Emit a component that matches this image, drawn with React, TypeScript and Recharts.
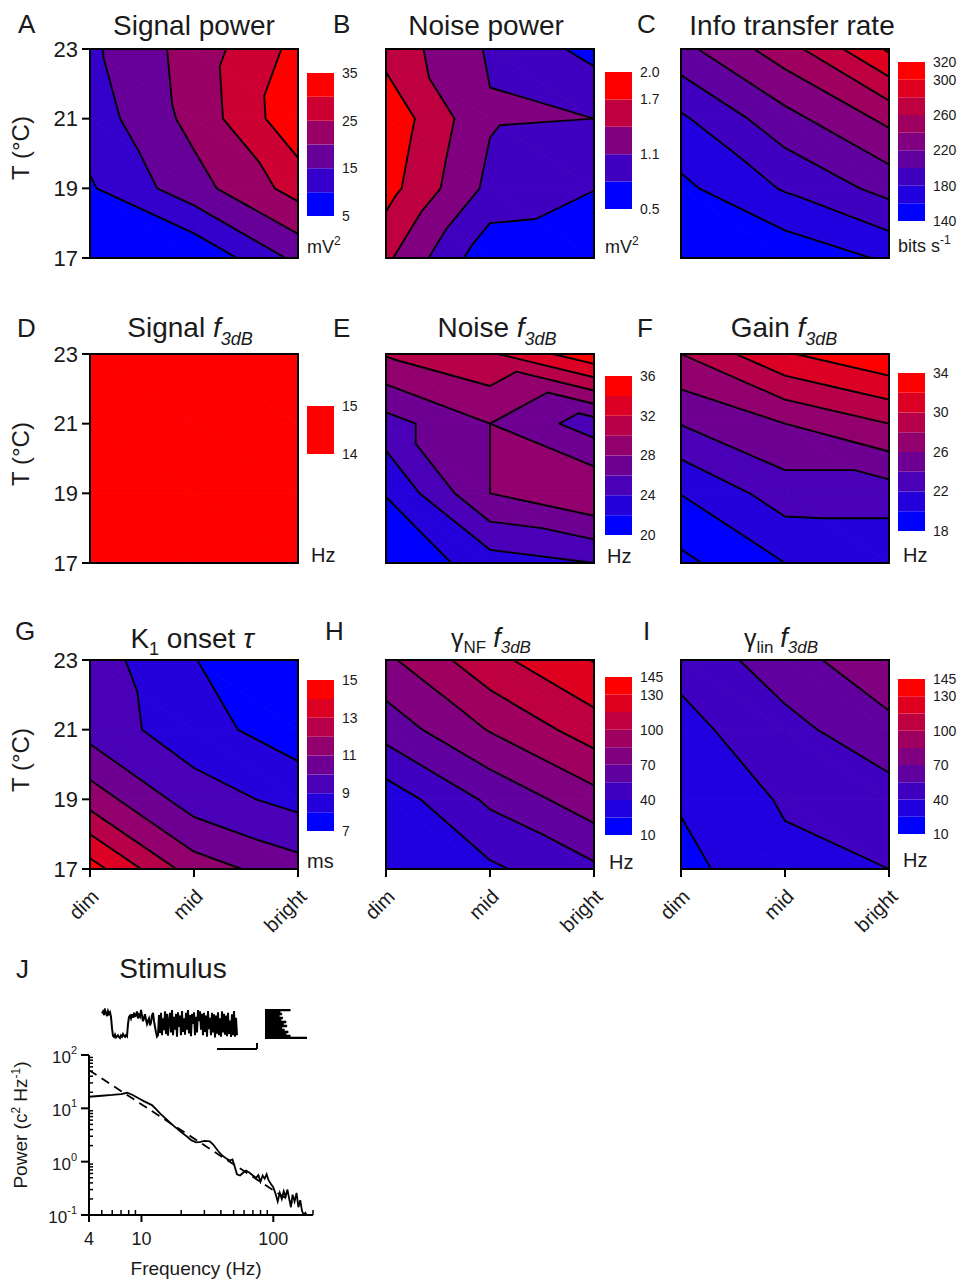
import React from 'react';
import {
  ComposedChart,
  XAxis,
  YAxis,
  ReferenceArea,
  Scatter,
  BarChart,
  Bar,
  LineChart,
  Line,
  ReferenceLine,
} from 'recharts';

const FONT = '"Liberation Sans", Arial, Helvetica, sans-serif';
const INK = '#1a1a1a';

// ---------- contour data: rows = temperature (17,19,21,23 °C), columns = dim, mid, bright ----------
const brightnessLevels = ['dim', 'mid', 'bright'];
const temperatures = [17, 19, 21, 23];

const signalPower = [
  [6, 5.6, 16.3],
  [9.45, 18.05, 27],
  [12.3, 21.6, 33.8],
  [14, 22.1, 31.5],
];
const signalPowerLevels = [5, 10, 15, 20, 25, 30, 35];
const signalPowerTicks = [5, 15, 25, 35];

const noisePower = [
  [1.46, 0.58, 0.52],
  [1.82, 1.02, 0.81],
  [1.92, 1.13, 1.1],
  [1.59, 1.063, 0.7],
];
const noisePowerLevels = [0.5, 0.8, 1.1, 1.4, 1.7, 2.0];
const noisePowerTicks = [0.5, 1.1, 1.7, 2.0];

const infoRate = [
  [145, 145.6, 163],
  [155.4, 182, 207],
  [176.7, 213, 245],
  [214, 251, 303],
];
const infoRateLevels = [140, 160, 180, 200, 220, 240, 260, 280, 300, 320];
const infoRateTicks = [140, 180, 220, 260, 300, 320];

const signalF3dB = [
  [14.5, 14.5, 14.5],
  [14.5, 14.5, 14.5],
  [14.5, 14.5, 14.5],
  [14.5, 14.5, 14.5],
];
const signalF3dBLevels = [14, 15];
const signalF3dBTicks = [14, 15];

const noiseF3dB = [
  [20.2, 23.07, 24],
  [22.1, 28, 29.9],
  [25.2, 28, 25],
  [30.17, 31.7, 35.5],
];
const noiseF3dBLevels = [20, 22, 24, 26, 28, 30, 32, 34, 36];
const noiseF3dBTicks = [20, 24, 28, 32, 36];

const gainF3dB = [
  [17.5, 20, 20.2],
  [20.05, 23, 23],
  [24.06, 26, 28],
  [28, 31.8, 33.8],
];
const gainF3dBLevels = [18, 20, 22, 24, 26, 28, 30, 32, 34];
const gainF3dBTicks = [18, 22, 26, 30, 34];

const k1Onset = [
  [14.45, 11.5, 10.41],
  [11.55, 9.49, 8.67],
  [9.6, 8.4, 7.45],
  [9.5, 8.03, 7.1],
];
const k1OnsetLevels = [7, 8, 9, 10, 11, 12, 13, 14, 15];
const k1OnsetTicks = [7, 9, 11, 13, 15];

const gammaNF = [
  [28, 37.4, 52],
  [31.1, 58, 79.3],
  [61.4, 86, 107.7],
  [81.9, 110.5, 130.8],
];
const gammaNFLevels = [10, 25, 40, 55, 70, 85, 100, 115, 130, 145];
const gammaNFTicks = [10, 40, 70, 100, 130, 145];

const gammaLin = [
  [20.5, 36, 40],
  [26.5, 41.8, 48.6],
  [35.2, 50.3, 65.4],
  [44.7, 63.1, 82.3],
];
const gammaLinLevels = [10, 25, 40, 55, 70, 85, 100, 115, 130, 145];
const gammaLinTicks = [10, 40, 70, 100, 130, 145];

// ---------- stimulus (panel J) ----------
const stimulusTrace = [
  0.88, 0.95, 0.82, 1.0, 0.9, 0.78, 0.96, 0.86, 0.92, 0.75, 0.35,
  0.08, 0.04, 0.12, 0.02, 0.06, 0.1, 0.03, 0.0, 0.09, 0.05, 0.14, 0.08, 0.04, 0.1, 0.06,
  0.5, 0.75, 0.8, 0.7, 0.85, 0.72, 0.9, 0.78, 0.8, 0.95, 0.7, 0.82, 0.76, 1.0, 0.8, 0.6, 0.72,
  0.85, 0.65, 0.5, 0.62, 0.7, 0.45, 0.55, 0.8, 0.9, 0.6, 0.4, 0.2, 0.05,
  0.1, 0.82, 0.18, 0.9, 0.1, 0.7, 0.28, 0.95, 0.14, 0.86, 0.08, 0.62, 0.9, 0.2, 1.0, 0.1,
  0.76, 0.3, 0.86, 0.05, 0.92, 0.4, 0.8, 0.1, 0.96, 0.22, 0.7, 0.12, 0.9, 0.3, 1.0, 0.16,
  0.82, 0.06, 0.86, 0.5, 0.92, 0.1, 0.76, 0.2, 1.0, 0.6, 0.95, 0.3, 0.86, 0.1, 0.9, 0.22,
  0.8, 0.05, 0.96, 0.32, 0.72, 0.1, 0.9, 0.2, 0.85, 0.02, 0.8, 0.15, 0.92, 0.1, 0.7, 0.05,
  0.95, 0.2, 0.86, 0.12, 0.8, 0.06, 0.9, 0.15, 0.62, 0.04, 0.85, 0.1, 0.96, 0.05, 0.72, 0.1,
];
const stimulusHistogram = [0.6, 0.36, 0.4, 0.34, 0.42, 0.38, 0.5, 0.44, 0.52, 0.4, 0.46, 0.55, 0.5, 0.6, 1.0];

const spectrumFreq = [
  4, 5, 6, 7, 7.8, 8.5, 9.5, 10.5, 12, 13, 14, 15.5, 17, 18.5, 20, 22, 24, 26, 28, 30, 33, 35, 38, 41, 44, 47,
  49, 51, 53, 56, 59, 62, 66, 70, 74, 77, 80, 83, 86, 89, 92, 96, 100, 104, 108, 112, 116, 120, 124, 128, 132,
  136, 140, 145, 150, 155, 160, 165, 170, 175, 182, 190, 200,
];
const spectrumPower = [
  16.5, 17.2, 17.8, 18.5, 19.6, 18, 15.5, 13.5, 11.5, 9.5, 7.8, 6.2, 5, 4.2, 3.6, 3, 2.5, 2.3, 2.35, 2.45, 2.4,
  2.1, 1.6, 1.3, 1.15, 1.05, 1.1, 0.8, 0.58, 0.55, 0.62, 0.68, 0.62, 0.55, 0.5, 0.56, 0.42, 0.55, 0.48, 0.58,
  0.45, 0.38, 0.33, 0.25, 0.18, 0.26, 0.2, 0.28, 0.22, 0.3, 0.2, 0.14, 0.24, 0.18, 0.26, 0.14, 0.19, 0.12, 0.1,
  0.11, 0.095, 0.1, 0.09,
];
const fitFreq = [4, 140];
const fitPower = [52, 0.17];

const freqTicks = [4, 5, 6, 7, 8, 9, 10, 20, 30, 40, 50, 60, 70, 80, 90, 100, 200];
const freqTickLabels: Record<string, string> = { '4': '4', '10': '10', '100': '100' };
const powerTicks = [
  0.1, 0.2, 0.3, 0.4, 0.5, 0.6, 0.7, 0.8, 0.9, 1, 2, 3, 4, 5, 6, 7, 8, 9, 10, 20, 30, 40, 50, 60, 70, 80, 90, 100,
];
const powerTickExponents: Record<string, string> = { '0.1': '-1', '1': '0', '10': '1', '100': '2' };

// ---------- helpers ----------
type Pt = { x: number; y: number; v: number };

function bandColor(k: number, n: number) {
  const t = n <= 1 ? 1 : k / (n - 1);
  return `rgb(${Math.round(255 * t)},0,${Math.round(255 * (1 - t))})`;
}

function clip(poly: Pt[], level: number, above: boolean): Pt[] {
  const out: Pt[] = [];
  const n = poly.length;
  for (let i = 0; i < n; i++) {
    const a = poly[i];
    const b = poly[(i + 1) % n];
    const ina = above ? a.v >= level : a.v <= level;
    const inb = above ? b.v >= level : b.v <= level;
    if (ina) out.push(a);
    if (ina !== inb) {
      const t = (level - a.v) / (b.v - a.v);
      out.push({ x: a.x + t * (b.x - a.x), y: a.y + t * (b.y - a.y), v: level });
    }
  }
  return out;
}

function polyPath(p: Pt[]) {
  return p.map((q, i) => `${i === 0 ? 'M' : 'L'}${q.x.toFixed(2)},${q.y.toFixed(2)}`).join('') + 'Z';
}

function buildContourShape(grid: number[][], levels: number[]) {
  return (props: any) => {
    const { x, y, width, height } = props;
    const nx = brightnessLevels.length - 1;
    const t0 = temperatures[0];
    const t1 = temperatures[temperatures.length - 1];
    const sx = (i: number) => x + (i / nx) * width;
    const sy = (t: number) => y + ((t1 - t) / (t1 - t0)) * height;
    const val = (j: number, i: number) => {
      let v = grid[j][i];
      for (const L of levels) if (Math.abs(v - L) < 1e-9) v += 1e-6;
      return v;
    };
    const node = (j: number, i: number): Pt => ({ x: sx(i), y: sy(temperatures[j]), v: val(j, i) });
    const tris: Pt[][] = [];
    for (let j = 0; j < temperatures.length - 1; j++) {
      for (let i = 0; i < nx; i++) {
        const ul = node(j + 1, i);
        const ur = node(j + 1, i + 1);
        const ll = node(j, i);
        const lr = node(j, i + 1);
        tris.push([ul, ur, lr], [ul, ll, lr]);
      }
    }
    const nb = levels.length - 1;
    const fills: React.ReactNode[] = [];
    tris.forEach((tri, ti) => {
      for (let k = 0; k < nb; k++) {
        let p = tri;
        if (k > 0) p = clip(p, levels[k], true);
        if (k < nb - 1) p = clip(p, levels[k + 1], false);
        if (p.length >= 3) {
          const c = bandColor(k, nb);
          fills.push(
            <path key={`f${ti}-${k}`} d={polyPath(p)} fill={c} stroke={c} strokeWidth={0.8} strokeLinejoin="round" />
          );
        }
      }
    });
    let lineD = '';
    tris.forEach((tri) => {
      levels.forEach((L) => {
        const pts: { x: number; y: number }[] = [];
        for (let e = 0; e < 3; e++) {
          const a = tri[e];
          const b = tri[(e + 1) % 3];
          if ((a.v - L) * (b.v - L) < 0) {
            const t = (L - a.v) / (b.v - a.v);
            pts.push({ x: a.x + t * (b.x - a.x), y: a.y + t * (b.y - a.y) });
          }
        }
        if (pts.length === 2) {
          lineD += `M${pts[0].x.toFixed(2)},${pts[0].y.toFixed(2)}L${pts[1].x.toFixed(2)},${pts[1].y.toFixed(2)}`;
        }
      });
    });
    return (
      <g>
        {fills}
        {lineD && <path d={lineD} fill="none" stroke="#000" strokeWidth={1.9} strokeLinecap="round" />}
        <rect x={x} y={y} width={width} height={height} fill="none" stroke="#000" strokeWidth={2} />
      </g>
    );
  };
}

const BrightTick = (props: any) => {
  const { x, y, payload } = props;
  const ax = x + 10;
  const ay = y + 19;
  return (
    <text
      x={ax}
      y={ay}
      transform={`rotate(-45 ${ax} ${ay})`}
      textAnchor="end"
      fontSize={20}
      fontFamily={FONT}
      fill={INK}
    >
      {brightnessLevels[payload.value]}
    </text>
  );
};

const EmptyShape = () => <g />;

type PanelCfg = {
  grid: number[][];
  levels: number[];
  left: number;
  top: number;
  showX?: boolean;
  showY?: boolean;
};

const PLOT_W = 208;
const PLOT_H = 209;

function ContourPanel({ cfg }: { cfg: PanelCfg }) {
  const nodes: { x: number; t: number }[] = [];
  temperatures.forEach((t) => brightnessLevels.forEach((_, i) => nodes.push({ x: i, t })));
  const shape = buildContourShape(cfg.grid, cfg.levels);
  return (
    <div style={{ position: 'absolute', left: cfg.left - 60, top: cfg.top - 20 }}>
      <ComposedChart width={60 + PLOT_W + 20} height={20 + PLOT_H + 85} margin={{ top: 20, right: 20, bottom: 0, left: 0 }}>
        <XAxis
          type="number"
          dataKey="x"
          domain={[0, brightnessLevels.length - 1]}
          ticks={brightnessLevels.map((_, i) => i)}
          interval={0}
          allowDataOverflow
          height={85}
          tickSize={8}
          axisLine={{ stroke: '#000', strokeWidth: 2 }}
          tickLine={{ stroke: '#000', strokeWidth: 2 }}
          tick={cfg.showX ? BrightTick : false}
        />
        <YAxis
          type="number"
          dataKey="t"
          domain={[temperatures[0], temperatures[temperatures.length - 1]]}
          ticks={temperatures}
          interval={0}
          allowDataOverflow
          width={60}
          tickSize={8}
          tickMargin={4}
          axisLine={{ stroke: '#000', strokeWidth: 2 }}
          tickLine={{ stroke: '#000', strokeWidth: 2 }}
          tick={cfg.showY ? { fontSize: 22, fill: INK, fontFamily: FONT } : false}
        />
        <ReferenceArea
          x1={0}
          x2={brightnessLevels.length - 1}
          y1={temperatures[0]}
          y2={temperatures[temperatures.length - 1]}
          shape={shape}
          ifOverflow="visible"
        />
        <Scatter data={nodes} dataKey="t" shape={EmptyShape} isAnimationActive={false} />
      </ComposedChart>
    </div>
  );
}

type BarCfg = {
  levels: number[];
  ticks: number[];
  left: number;
  top: number;
  height: number;
  decimals?: number;
};

function ColorBar({ cfg }: { cfg: BarCfg }) {
  const n = cfg.levels.length - 1;
  const row: Record<string, number | string> = { name: 'c', base: cfg.levels[0] };
  for (let k = 0; k < n; k++) row[`b${k}`] = cfg.levels[k + 1] - cfg.levels[k];
  const bands = Array.from({ length: n }, (_, k) => k);
  return (
    <div style={{ position: 'absolute', left: cfg.left, top: cfg.top - 10 }}>
      <BarChart width={27 + 44} height={cfg.height + 20} data={[row]} margin={{ top: 10, bottom: 10, left: 0, right: 0 }} barCategoryGap={0}>
        <XAxis dataKey="name" type="category" hide />
        <YAxis
          orientation="right"
          type="number"
          domain={[cfg.levels[0], cfg.levels[n]]}
          allowDataOverflow
          ticks={cfg.ticks}
          interval={0}
          axisLine={false}
          tickLine={false}
          tickSize={0}
          tickMargin={8}
          width={44}
          tick={{ fontSize: 14, fill: INK, fontFamily: FONT }}
          tickFormatter={(v: number) => (cfg.decimals ? v.toFixed(cfg.decimals) : String(v))}
        />
        <Bar dataKey="base" stackId="s" fill="transparent" isAnimationActive={false} />
        {bands.map((k) => (
          <Bar key={k} dataKey={`b${k}`} stackId="s" fill={bandColor(k, n)} isAnimationActive={false} />
        ))}
      </BarChart>
    </div>
  );
}

const FreqTick = (props: any) => {
  const { x, y, payload } = props;
  const label = freqTickLabels[String(payload.value)];
  if (label) {
    return (
      <g>
        <line x1={x} x2={x} y1={y} y2={y + 7} stroke="#000" strokeWidth={2} />
        <text x={x} y={y + 30} textAnchor="middle" fontSize={18} fontFamily={FONT} fill={INK}>
          {label}
        </text>
      </g>
    );
  }
  return <line x1={x} x2={x} y1={y - 5} y2={y} stroke="#000" strokeWidth={1.5} />;
};

const PowerTick = (props: any) => {
  const { x, y, payload } = props;
  const exp = powerTickExponents[String(payload.value)];
  if (exp !== undefined) {
    return (
      <g>
        <line x1={x - 8} x2={x} y1={y} y2={y} stroke="#000" strokeWidth={2} />
        <text x={x - 12} y={y + 8} textAnchor="end" fontSize={17} fontFamily={FONT} fill={INK}>
          10
          <tspan fontSize={11} dy={-9}>
            {exp}
          </tspan>
        </text>
      </g>
    );
  }
  return <line x1={x} x2={x + 4} y1={y} y2={y} stroke="#000" strokeWidth={1.5} />;
};

const contourPanels: PanelCfg[] = [
  { grid: signalPower, levels: signalPowerLevels, left: 90, top: 49, showY: true },
  { grid: noisePower, levels: noisePowerLevels, left: 386, top: 49 },
  { grid: infoRate, levels: infoRateLevels, left: 681, top: 49 },
  { grid: signalF3dB, levels: signalF3dBLevels, left: 90, top: 354, showY: true },
  { grid: noiseF3dB, levels: noiseF3dBLevels, left: 386, top: 354 },
  { grid: gainF3dB, levels: gainF3dBLevels, left: 681, top: 354 },
  { grid: k1Onset, levels: k1OnsetLevels, left: 90, top: 660, showY: true, showX: true },
  { grid: gammaNF, levels: gammaNFLevels, left: 386, top: 660, showX: true },
  { grid: gammaLin, levels: gammaLinLevels, left: 681, top: 660, showX: true },
];

const colorBars: BarCfg[] = [
  { levels: signalPowerLevels, ticks: signalPowerTicks, left: 307, top: 73, height: 143 },
  { levels: noisePowerLevels, ticks: noisePowerTicks, left: 605, top: 72, height: 137, decimals: 1 },
  { levels: infoRateLevels, ticks: infoRateTicks, left: 898, top: 62, height: 159 },
  { levels: signalF3dBLevels, ticks: signalF3dBTicks, left: 307, top: 406, height: 48 },
  { levels: noiseF3dBLevels, ticks: noiseF3dBTicks, left: 605, top: 376, height: 159 },
  { levels: gainF3dBLevels, ticks: gainF3dBTicks, left: 898, top: 373, height: 158 },
  { levels: k1OnsetLevels, ticks: k1OnsetTicks, left: 307, top: 680, height: 151 },
  { levels: gammaNFLevels, ticks: gammaNFTicks, left: 605, top: 677, height: 158 },
  { levels: gammaLinLevels, ticks: gammaLinTicks, left: 898, top: 679, height: 155 },
];

function Txt(p: any) {
  return <text fontFamily={FONT} fill={INK} {...p} />;
}

function Overlay() {
  const letters: [string, number, number][] = [
    ['A', 18, 33], ['B', 333, 33], ['C', 637, 33],
    ['D', 17, 337], ['E', 333, 337], ['F', 637, 337],
    ['G', 15, 640], ['H', 325, 640], ['I', 643, 640],
    ['J', 16, 978],
  ];
  const tLabelY = [148, 454, 760];
  const sub = 18;
  return (
    <svg width={957} height={1282} style={{ position: 'absolute', left: 0, top: 0, pointerEvents: 'none' }}>
      {letters.map(([l, x, y]) => (
        <Txt key={l} x={x} y={y} fontSize={26}>
          {l}
        </Txt>
      ))}
      <Txt x={194} y={35} fontSize={28} textAnchor="middle">Signal power</Txt>
      <Txt x={486} y={35} fontSize={28} textAnchor="middle">Noise power</Txt>
      <Txt x={792} y={35} fontSize={28} textAnchor="middle">Info transfer rate</Txt>

      <Txt x={190} y={337} fontSize={28} textAnchor="middle">
        Signal <tspan fontStyle="italic">f</tspan>
        <tspan fontStyle="italic" fontSize={sub} dy={8}>3dB</tspan>
      </Txt>
      <Txt x={497} y={337} fontSize={28} textAnchor="middle">
        Noise <tspan fontStyle="italic">f</tspan>
        <tspan fontStyle="italic" fontSize={sub} dy={8}>3dB</tspan>
      </Txt>
      <Txt x={784} y={337} fontSize={28} textAnchor="middle">
        Gain <tspan fontStyle="italic">f</tspan>
        <tspan fontStyle="italic" fontSize={sub} dy={8}>3dB</tspan>
      </Txt>

      <Txt x={192} y={648} fontSize={28} textAnchor="middle">
        K<tspan fontSize={sub} dy={7}>1</tspan>
        <tspan dy={-7}>{'\u00A0onset\u00A0'}</tspan>
        <tspan fontStyle="italic">τ</tspan>
      </Txt>
      <Txt x={491} y={647} fontSize={25} textAnchor="middle">
        γ<tspan fontSize={17} dy={6}>NF</tspan>
        <tspan dy={-6}>{'\u00A0'}</tspan>
        <tspan fontStyle="italic" fontSize={27}>f</tspan>
        <tspan fontStyle="italic" fontSize={17} dy={6}>3dB</tspan>
      </Txt>
      <Txt x={781} y={647} fontSize={25} textAnchor="middle">
        γ<tspan fontSize={17} dy={6}>lin</tspan>
        <tspan dy={-6}>{'\u00A0'}</tspan>
        <tspan fontStyle="italic" fontSize={27}>f</tspan>
        <tspan fontStyle="italic" fontSize={17} dy={6}>3dB</tspan>
      </Txt>

      {tLabelY.map((cy) => (
        <Txt key={cy} x={29} y={cy} fontSize={24} textAnchor="middle" transform={`rotate(-90 29 ${cy})`}>
          T (°C)
        </Txt>
      ))}

      <Txt x={307} y={253} fontSize={18}>
        mV<tspan fontSize={12} dy={-8}>2</tspan>
      </Txt>
      <Txt x={605} y={253} fontSize={18}>
        mV<tspan fontSize={12} dy={-8}>2</tspan>
      </Txt>
      <Txt x={898} y={252} fontSize={18}>
        bits s<tspan fontSize={12} dy={-8}>-1</tspan>
      </Txt>
      <Txt x={311} y={562} fontSize={20}>Hz</Txt>
      <Txt x={607} y={563} fontSize={20}>Hz</Txt>
      <Txt x={903} y={562} fontSize={20}>Hz</Txt>
      <Txt x={307} y={868} fontSize={20}>ms</Txt>
      <Txt x={609} y={869} fontSize={20}>Hz</Txt>
      <Txt x={903} y={867} fontSize={20}>Hz</Txt>

      <Txt x={173} y={978} fontSize={28} textAnchor="middle">Stimulus</Txt>
      <Txt x={196} y={1275} fontSize={19} textAnchor="middle">Frequency (Hz)</Txt>
      <Txt x={27} y={1125} fontSize={19} textAnchor="middle" transform="rotate(-90 27 1125)">
        Power (c<tspan fontSize={12} dy={-7}>2</tspan>
        <tspan dy={7}>{'\u00A0Hz'}</tspan>
        <tspan fontSize={12} dy={-7}>-1</tspan>
        <tspan dy={7}>)</tspan>
      </Txt>
    </svg>
  );
}

export default function App() {
  const stimData = stimulusTrace.map((v, t) => ({ t, v }));
  const histData = stimulusHistogram.map((count, i) => ({ bin: i, count }));
  const spectrum = spectrumFreq.map((f, i) => ({ f, p: spectrumPower[i] }));
  const fit = fitFreq.map((f, i) => ({ f, p: fitPower[i] }));
  return (
    <div style={{ position: 'absolute', left: 0, top: 0, width: 957, height: 1282, background: '#fff', overflow: 'hidden' }}>
      {contourPanels.map((cfg, i) => (
        <ContourPanel key={i} cfg={cfg} />
      ))}
      {colorBars.map((cfg, i) => (
        <ColorBar key={i} cfg={cfg} />
      ))}

      {/* stimulus trace with scale bar */}
      <div style={{ position: 'absolute', left: 100, top: 1008 }}>
        <LineChart width={159} height={46} data={stimData} margin={{ top: 2, right: 2, bottom: 2, left: 2 }}>
          <XAxis dataKey="t" type="number" domain={[0, 155]} hide />
          <YAxis type="number" domain={[-0.5, 1]} hide />
          <Line dataKey="v" stroke="#000" strokeWidth={2} dot={false} isAnimationActive={false} />
          <ReferenceLine segment={[{ x: 115, y: -0.39 }, { x: 155, y: -0.39 }]} stroke="#000" strokeWidth={2} ifOverflow="visible" />
          <ReferenceLine segment={[{ x: 155, y: -0.39 }, { x: 155, y: -0.18 }]} stroke="#000" strokeWidth={2} ifOverflow="visible" />
        </LineChart>
      </div>

      {/* stimulus histogram */}
      <div style={{ position: 'absolute', left: 265, top: 1009 }}>
        <BarChart width={42} height={30} data={histData} layout="vertical" margin={{ top: 0, right: 0, bottom: 0, left: 0 }} barCategoryGap={0}>
          <XAxis type="number" domain={[0, 1]} hide />
          <YAxis type="category" dataKey="bin" hide />
          <Bar dataKey="count" fill="#000" stroke="#000" strokeWidth={0.6} isAnimationActive={false} />
        </BarChart>
      </div>

      {/* power spectrum */}
      <div style={{ position: 'absolute', left: 29, top: 1045 }}>
        <LineChart width={294} height={210} margin={{ top: 10, right: 10, bottom: 0, left: 0 }}>
          <XAxis
            type="number"
            dataKey="f"
            scale="log"
            domain={[4, 200]}
            allowDataOverflow
            ticks={freqTicks}
            interval={0}
            tick={FreqTick}
            tickLine={false}
            tickSize={0}
            tickMargin={0}
            axisLine={{ stroke: '#000', strokeWidth: 2 }}
            height={40}
          />
          <YAxis
            type="number"
            scale="log"
            domain={[0.1, 100]}
            allowDataOverflow
            ticks={powerTicks}
            interval={0}
            tick={PowerTick}
            tickLine={false}
            tickSize={0}
            tickMargin={0}
            axisLine={{ stroke: '#000', strokeWidth: 2 }}
            width={60}
          />
          <Line data={fit} dataKey="p" stroke="#000" strokeWidth={1.8} strokeDasharray="9 6" dot={false} isAnimationActive={false} />
          <Line data={spectrum} dataKey="p" stroke="#000" strokeWidth={1.8} dot={false} isAnimationActive={false} />
        </LineChart>
      </div>

      <Overlay />
    </div>
  );
}
